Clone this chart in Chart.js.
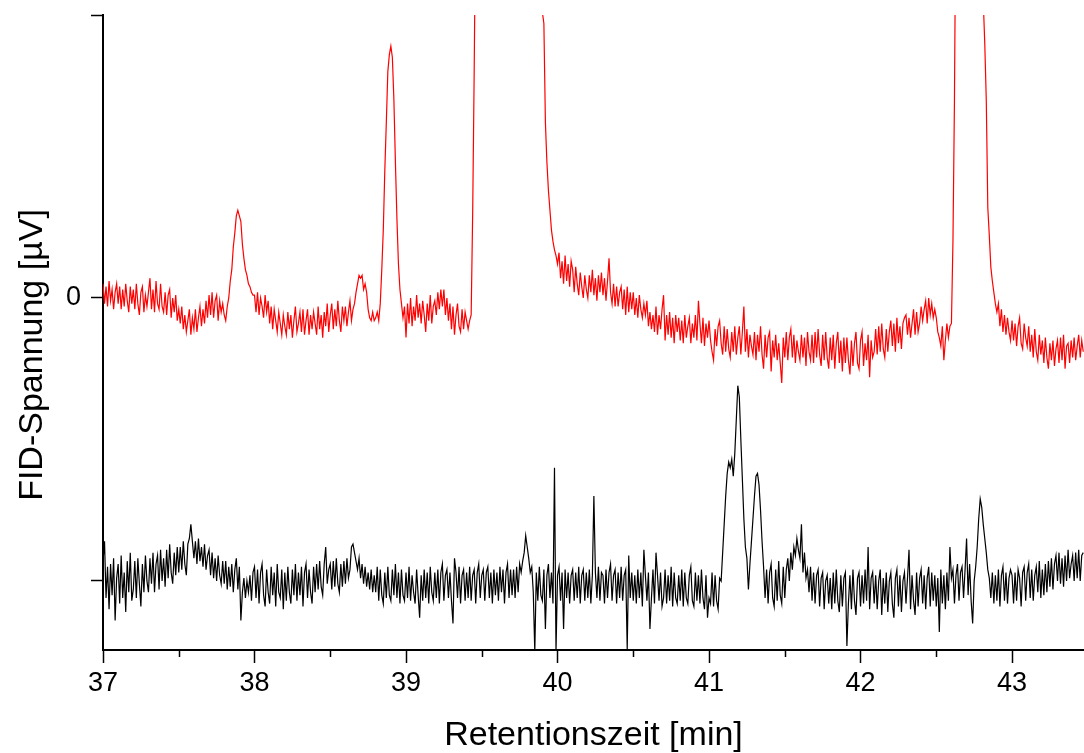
<!DOCTYPE html>
<html>
<head>
<meta charset="utf-8">
<script src="https://cdn.jsdelivr.net/npm/chart.js@4.4.0/dist/chart.umd.min.js"></script>
<style>
  html, body { margin: 0; padding: 0; background: #fff; }
  #wrap { width: 1084px; height: 753px; }
</style>
</head>
<body>
<div id="wrap"><canvas id="fidChart"></canvas></div>
<script>
// Retention time axis: samples every 0.01 min starting at 37.00 min
var startTime = 37.0;
var sampleStep = 0.01;

// Upper trace (red), one value per sample
var redSignal = [
    5, -2, 4, -3, 6, -1, 3, -4, 2, 5,
    -2, 4, -4, 3, -3, 5, -1, -5, 4, -2,
    3, -4, 5, -2, -6, 2, 4, -5, 1, -3,
    2, 7, -4, 3, -5, 6, -2, -4, 5, -3,
    -5, 2, -6, 1, 3, -7, 0, -5, 1, -8,
    -4, -9, -3, -11, -6, -12, -8, -4, -13, -7,
    -11, -4, -12, -7, -3, -10, -4, -9, -1, -7,
    1, -6, 2, -7, -1, 1, -8, -1, -5, -2,
    -6, -8, -3, 0, 6, 10, 18, 23, 29, 31,
    29, 27, 19, 14, 10, 8, 5, 4, 2, 1,
    1, -5, 2, -6, 0, -3, -7, 1, -5, -1,
    -9, -3, -11, -4, -8, -12, -5, -9, -13, -6,
    -10, -13, -5, -11, -6, -14, -8, -3, -12, -9,
    -5, -12, -4, -13, -8, -4, -13, -6, -11, -5,
    -9, -13, -3, -11, -6, -14, -5, -10, -2, -12,
    -6, -2, -11, -4, -10, -1, -8, -12, -3, -8,
    -3, -10, -5, -1, -8, -4, -2, 2, 5, 8,
    7, 8, 3, 5, 2, -4, -7, -8, -5, -8,
    -7, -5, -8, -2, 10, 24, 45, 62, 80, 86,
    89, 85, 70, 48, 28, 12, 3, -2, -7, -3,
    -14, -2, -9, 0, -10, -3, -8, 1, -7, -2,
    -9, -1, -6, -12, -2, -8, 1, -9, -3, -1,
    -6, 2, -4, 3, -3, 3, -6, 0, -8, -2,
    -11, -3, -13, -6, -2, -10, -12, -4, -11, -5,
    -8, -11, -8, -6, 30, 80, 140, 260, 380, 500,
    620, 740, 850, 950, 1040, 1120, 1180, 1230, 1260, 1280,
    1290, 1280, 1260, 1230, 1190, 1140, 1080, 1010, 940, 870,
    800, 730, 660, 590, 530, 470, 420, 370, 330, 290,
    260, 230, 200, 180, 160, 145, 130, 120, 112, 106,
    101, 97, 62, 48, 38, 31, 24, 20, 17, 15,
    12, 16, 7, 13, 5, 15, 6, 12, 4, 13,
    10, 2, 11, 5, 1, 9, 4, 0, 8, 3,
    0, 8, 2, 10, 1, 7, -1, 8, 2, 9,
    1, 7, -1, 6, 14, 2, -2, 5, -3, 4,
    -3, 2, 4, -4, 3, -6, 4, -5, 2, -4,
    2, -6, 0, -7, 1, -4, -7, -2, -6, -1,
    -10, -5, -11, -6, -12, -3, -13, -6, -11, -4,
    1, -15, -6, -13, -5, -14, -7, -16, -6, -12,
    -7, -15, -8, -16, -6, -14, -10, -7, -16, -9,
    -14, -6, -15, -1, -9, -16, -7, -17, -9, -14,
    -8, -15, -19, -22, -11, -17, -10, -8, -16, -20,
    -10, -19, -11, -18, -21, -12, -19, -10, -20, -14,
    -10, -20, -12, -3, -19, -11, -21, -13, -17, -20,
    -12, -22, -13, -19, -10, -20, -25, -13, -21, -14,
    -12, -26, -15, -21, -13, -22, -16, -23, -30, -14,
    -21, -12, -22, -14, -11, -21, -13, -23, -15, -19,
    -22, -13, -21, -14, -24, -12, -19, -22, -13, -23,
    -12, -21, -11, -20, -24, -13, -22, -12, -21, -25,
    -14, -22, -13, -25, -16, -12, -23, -15, -26, -14,
    -23, -14, -22, -27, -15, -24, -16, -12, -23, -25,
    -15, -12, -24, -16, -22, -13, -28, -15, -21, -19,
    -11, -20, -10, -19, -9, -18, -21, -11, -19, -12,
    -8, -17, -9, -19, -7, -16, -10, -18, -9, -7,
    -6, -13, -7, -14, -9, -4, -13, -5, -12, -9,
    -3, -8, -4, -1, -9, 0, -6, -2, -7, -4,
    -7, -12, -14, -17, -10, -22, -15, -9, -14, -10,
    -9, 20, 70, 150, 300, 500, 700, 900, 1050, 1150,
    1200, 1180, 1120, 1040, 940, 820, 690, 560, 440, 330,
    240, 105, 90, 70, 32, 22, 11, 6, 2, -2,
    -5, -2, -10, -4, -12, -6, -13, -7, -12, -15,
    -8, -15, -9, -17, -10, -7, -16, -18, -9, -14,
    -17, -10, -19, -13, -21, -11, -19, -22, -13, -20,
    -15, -23, -14, -21, -25, -16, -22, -15, -24, -18,
    -15, -23, -14, -22, -13, -25, -17, -16, -23, -15,
    -21, -14, -22, -17, -13, -21, -15, -19
];

// Lower trace (black), same sampling
var blackSignal = [
    -93, -86, -106, -95, -110, -94, -105, -92, -114, -99,
    -94, -108, -91, -106, -97, -111, -93, -104, -90, -107,
    -103, -93, -106, -92, -101, -109, -94, -104, -91, -100,
    -104, -92, -101, -90, -104, -94, -91, -103, -89, -100,
    -92, -102, -89, -99, -87, -97, -101, -90, -98, -88,
    -97, -88, -96, -86, -94, -98, -87, -85, -80, -86,
    -92, -86, -94, -85, -93, -88, -95, -87, -96, -91,
    -89, -98, -90, -99, -92, -100, -91, -98, -101, -93,
    -101, -93, -103, -95, -102, -94, -104, -96, -92, -103,
    -95, -114, -104, -99, -106, -100, -104, -98, -107, -97,
    -95, -106, -96, -108, -97, -94, -105, -109, -96, -104,
    -108, -95, -105, -97, -109, -94, -104, -106, -96, -110,
    -97, -107, -95, -104, -108, -96, -105, -94, -107, -97,
    -105, -95, -109, -97, -94, -106, -96, -104, -108, -95,
    -104, -94, -103, -93, -102, -105, -94, -88, -101, -96,
    -94, -103, -93, -102, -92, -101, -104, -94, -102, -93,
    -101, -92, -99, -96, -88, -87, -90, -93, -96, -92,
    -99, -94, -101, -95, -102, -97, -103, -96, -104, -98,
    -104, -95, -107, -96, -105, -108, -97, -106, -95, -105,
    -107, -96, -105, -94, -106, -97, -108, -96, -105, -107,
    -97, -106, -95, -107, -98, -104, -108, -96, -105, -113,
    -98, -107, -96, -106, -97, -108, -95, -104, -107, -97,
    -106, -96, -108, -97, -94, -107, -98, -96, -106, -97,
    -107, -115, -92, -97, -106, -95, -108, -98, -96, -107,
    -97, -106, -95, -107, -98, -96, -108, -97, -94, -106,
    -98, -96, -107, -97, -95, -106, -97, -108, -96, -105,
    -97, -107, -95, -104, -96, -108, -97, -94, -106, -96,
    -105, -96, -106, -95, -104, -94, -97, -93, -90, -84,
    -88, -92, -97, -95, -104, -125, -97, -107, -95, -105,
    -107, -96, -117, -98, -94, -106, -97, -108, -60, -125,
    -98, -95, -107, -97, -117, -96, -106, -97, -108, -98,
    -96, -107, -97, -106, -95, -108, -98, -96, -107, -97,
    -106, -96, -108, -98, -70, -97, -106, -95, -107, -97,
    -98, -108, -96, -106, -97, -94, -107, -98, -96, -108,
    -97, -106, -95, -107, -98, -96, -124, -91, -106, -97,
    -107, -98, -108, -96, -106, -97, -109, -89, -98, -107,
    -97, -117, -106, -96, -108, -90, -98, -107, -97, -109,
    -106, -96, -108, -98, -107, -95, -109, -97, -106, -108,
    -98, -107, -96, -109, -97, -106, -108, -98, -95, -107,
    -109, -97, -107, -98, -108, -96, -106, -110, -98, -113,
    -106, -108, -97, -109, -98, -107, -110, -99, -100, -90,
    -80, -70, -62, -58, -60, -57, -63, -55, -43, -31,
    -35, -50, -64, -78, -88, -92, -103, -94, -86, -78,
    -70, -63, -62, -66, -75, -86, -95, -106, -96, -108,
    -97, -94, -106, -109, -96, -107, -93, -105, -108, -95,
    -106, -96, -92, -100, -90, -96, -88, -91, -85, -89,
    -92, -80, -97, -90, -99, -96, -104, -95, -107, -97,
    -108, -98, -96, -109, -99, -97, -110, -100, -98, -108,
    -99, -110, -97, -108, -96, -107, -111, -98, -109, -99,
    -97, -123, -108, -98, -110, -96, -107, -112, -99, -97,
    -109, -98, -108, -96, -107, -88, -110, -99, -97, -108,
    -98, -110, -100, -96, -112, -99, -108, -97, -111, -100,
    -97, -108, -113, -99, -96, -109, -98, -111, -100, -97,
    -108, -99, -89, -110, -98, -107, -112, -97, -109, -99,
    -96, -108, -98, -110, -99, -95, -109, -97, -107, -98,
    -109, -99, -118, -96, -108, -98, -110, -97, -107, -88,
    -99, -96, -108, -98, -94, -107, -97, -95, -106, -96,
    -85, -105, -94, -107, -115, -100, -95, -88, -78, -71,
    -74, -80, -85, -90, -96, -99, -106, -97, -108, -98,
    -107, -96, -109, -98, -95, -107, -97, -108, -99, -96,
    -98, -108, -97, -107, -96, -99, -109, -97, -95, -107,
    -97, -94, -106, -96, -107, -98, -95, -104, -93, -106,
    -96, -105, -94, -104, -93, -102, -92, -103, -94, -91,
    -100, -90, -101, -92, -102, -91, -100, -89, -99, -94,
    -91, -100, -90, -99, -89, -100, -91, -90
];

// Axis ticks
var xMajorTicks = [37, 38, 39, 40, 41, 42, 43];
var xMinorTicks = [37.5, 38.5, 39.5, 40.5, 41.5, 42.5];
var yTicks = [-100, 0, 100];
var yTickLabels = ['', '0', ''];
var yTitle = 'FID-Spannung [µV]';

function toPoints(values) {
    return values.map(function(v, i) {
        return { x: startTime + i * sampleStep, y: v };
    });
}

var fontFamily = 'Liberation Sans, Arial, sans-serif';

// short half-minute ticks below the x axis, and the y title (sits a bit below centre)
var extrasPlugin = {
    id: 'extras',
    afterDraw: function(chart) {
        var xs = chart.scales.x;
        var ctx = chart.ctx;
        ctx.save();
        ctx.strokeStyle = '#000';
        ctx.lineWidth = 1.5;
        xMinorTicks.forEach(function(v) {
            var px = Math.round(xs.getPixelForValue(v)) + 0.5;
            ctx.beginPath();
            ctx.moveTo(px, xs.top);
            ctx.lineTo(px, xs.top + 7);
            ctx.stroke();
        });
        ctx.translate(33, 355);
        ctx.rotate(-Math.PI / 2);
        ctx.fillStyle = '#000';
        ctx.font = '34px ' + fontFamily;
        ctx.textAlign = 'center';
        ctx.textBaseline = 'middle';
        ctx.fillText(yTitle, 0, 0);
        ctx.restore();
    }
};

var ctx = document.getElementById('fidChart').getContext('2d');
var fidChart = new Chart(ctx, {
    type: 'line',
    data: {
        datasets: [
            {
                label: 'black',
                data: toPoints(blackSignal),
                borderColor: '#000000',
                borderWidth: 1.2,
                pointRadius: 0,
                tension: 0
            },
            {
                label: 'red',
                data: toPoints(redSignal),
                borderColor: '#ff0000',
                borderWidth: 1.2,
                pointRadius: 0,
                tension: 0
            }
        ]
    },
    options: {
        responsive: true,
        maintainAspectRatio: false,
        animation: false,
        layout: { padding: { top: 15, right: 0, left: 0, bottom: 0 } },
        plugins: {
            legend: { display: false },
            tooltip: { enabled: false }
        },
        scales: {
            x: {
                type: 'linear',
                min: 37,
                max: 43.475,
                afterBuildTicks: function(scale) {
                    scale.ticks = xMajorTicks.map(function(v) { return { value: v }; });
                },
                afterFit: function(scale) {
                    scale.height = 103;
                    scale.paddingLeft = 0;
                    scale.paddingRight = 0;
                },
                border: { display: true, color: '#000', width: 2 },
                grid: { drawOnChartArea: false, drawTicks: true, tickLength: 13, tickColor: '#000', tickWidth: 1.5 },
                ticks: {
                    color: '#000',
                    padding: 4,
                    maxRotation: 0,
                    font: { family: fontFamily, size: 27 },
                    callback: function(v) { return String(v); }
                },
                title: {
                    display: true,
                    text: 'Retentionszeit [min]',
                    color: '#000',
                    padding: 0,
                    font: { family: fontFamily, size: 34, lineHeight: 1 }
                }
            },
            y: {
                type: 'linear',
                min: -124.4,
                max: 100,
                afterBuildTicks: function(scale) {
                    scale.ticks = yTicks.map(function(v) { return { value: v }; });
                },
                afterFit: function(scale) {
                    scale.width = 103;
                    scale.paddingTop = 0;
                    scale.paddingBottom = 0;
                },
                border: { display: true, color: '#000', width: 2 },
                grid: { drawOnChartArea: false, drawTicks: true, tickLength: 12, tickColor: '#000', tickWidth: 1.5 },
                ticks: {
                    color: '#000',
                    padding: 10,
                    font: { family: fontFamily, size: 27 },
                    callback: function(v, i) { return yTickLabels[i]; }
                },
                title: { display: false }
            }
        }
    },
    plugins: [extrasPlugin]
});
</script>
</body>
</html>
